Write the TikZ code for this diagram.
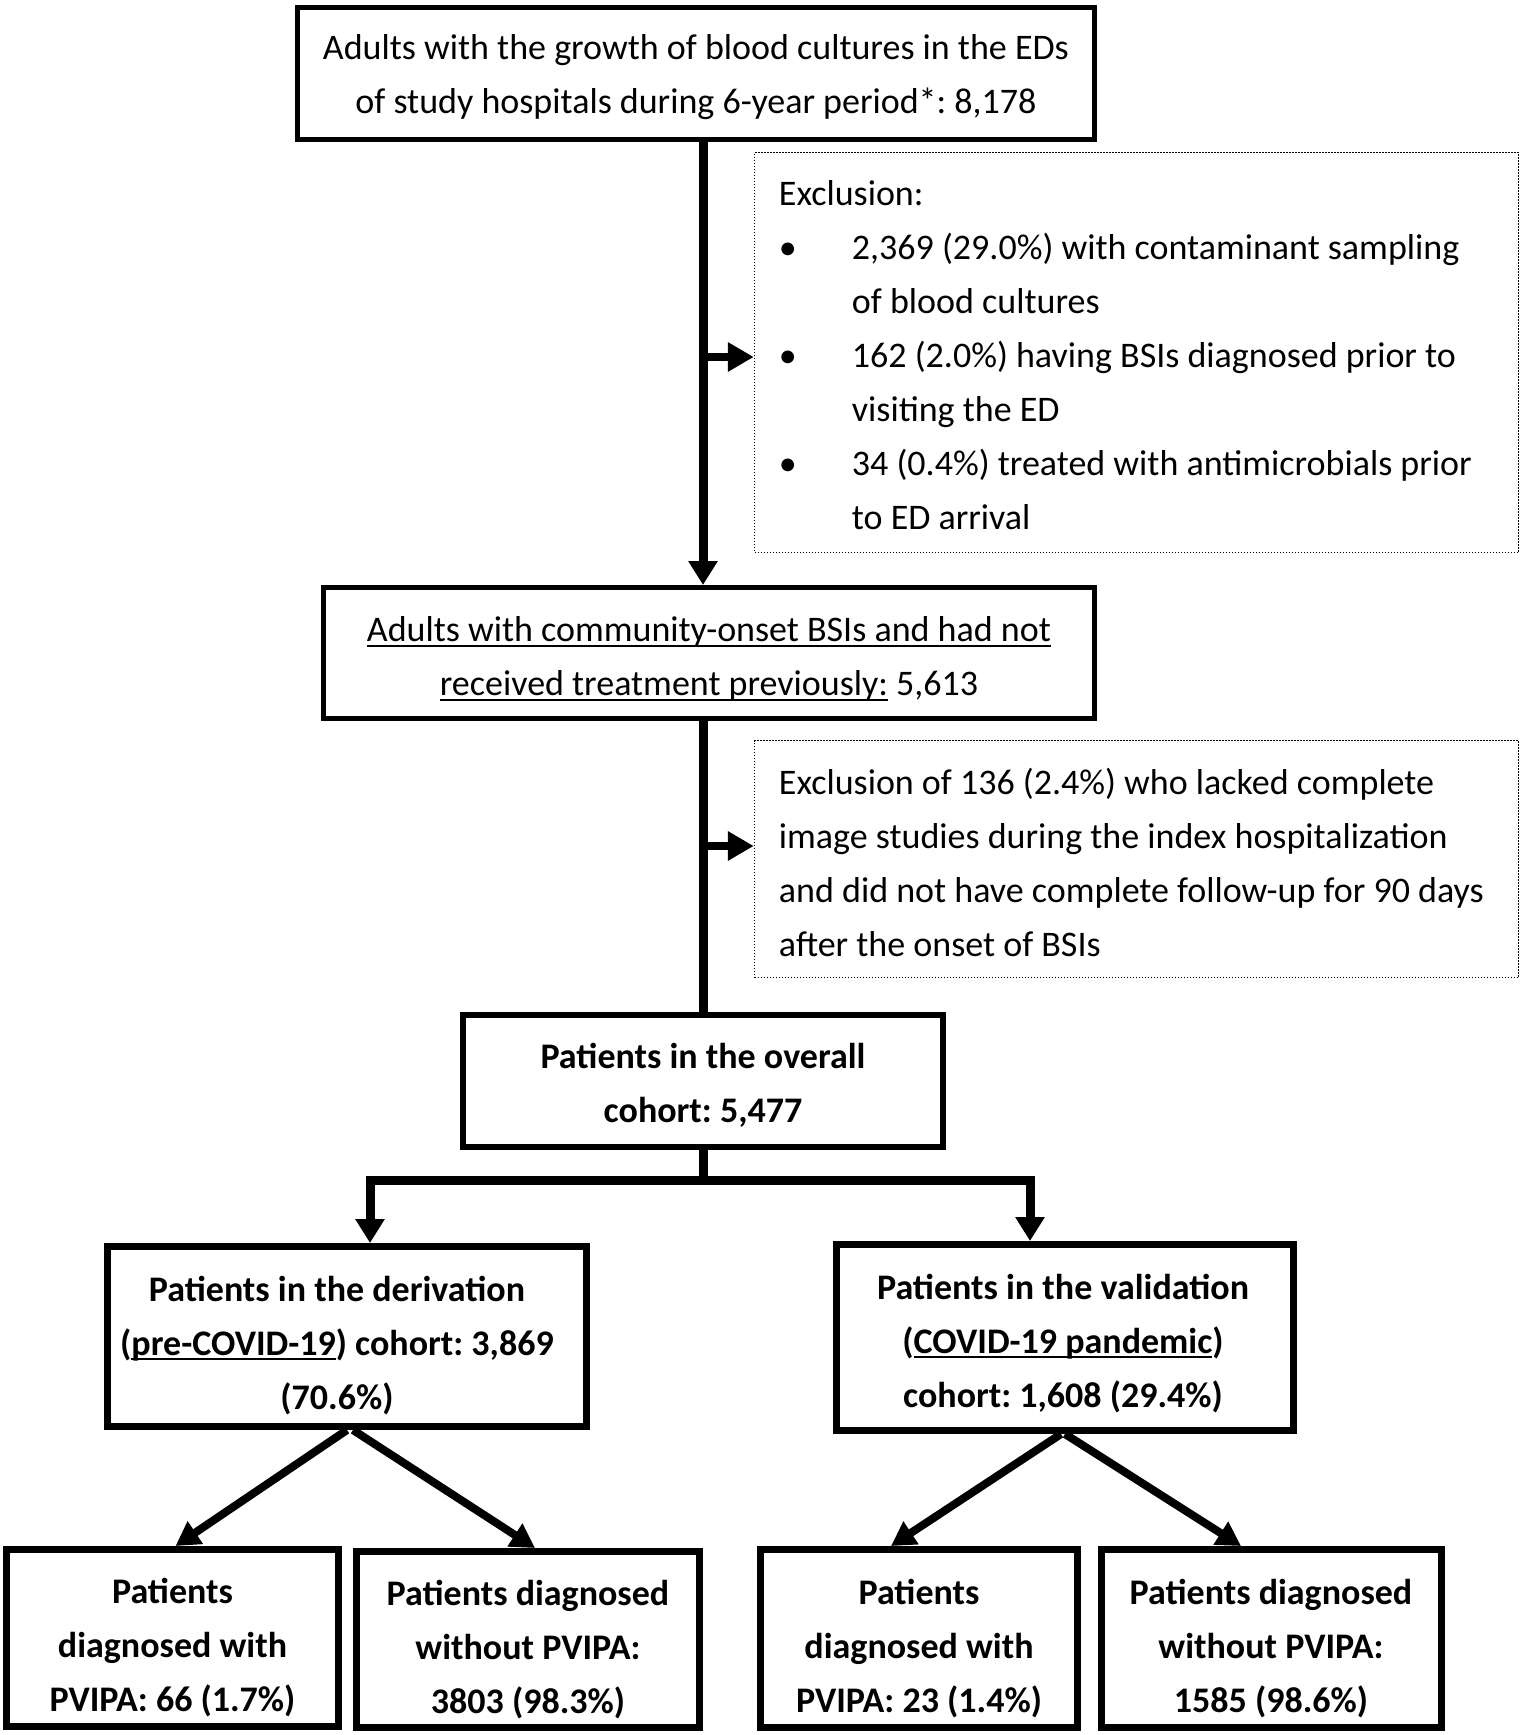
\documentclass[tikz,border=0pt]{standalone}
\usepackage{fontspec}
\setmainfont{Carlito}
\usetikzlibrary{arrows.meta,calc}
\newcommand{\myul}[1]{\setbox0\hbox{#1}\rlap{\rule[-5pt]{\wd0}{2pt}}\box0\relax}
\tikzset{
  txt/.style={font=\fontsize{36}{54}\selectfont\frenchspacing, align=center, inner sep=0pt},
  btxt/.style={font=\fontsize{36}{54}\selectfont\frenchspacing\bfseries, align=center, inner sep=0pt},
  ltxt/.style={font=\fontsize{36}{54}\selectfont\frenchspacing, align=left, inner sep=0pt, anchor=west},
  box/.style={draw, line width=5pt, inner sep=0pt},
  boldbox/.style={draw, line width=7pt, inner sep=0pt},
  dotbox/.style={draw, line width=1.5pt, dash pattern=on 1.5pt off 1.5pt, inner sep=0pt, minimum width=764pt},
  conn/.style={line width=9pt},
  arr/.style={line width=9pt, -{Triangle[width=28pt,length=24pt]}},
  sidearr/.style={line width=8pt, -{Triangle[width=28pt,length=26pt]}},
  diag/.style={line width=8pt, -{Triangle[width=26pt,length=24pt]}}
}
\newcommand{\bul}{\makebox[73pt][l]{\textbullet}}
\newcommand{\ind}{\hspace*{73pt}}
\begin{document}
\begin{tikzpicture}[x=1pt,y=-1pt]
\useasboundingbox (0,0) rectangle (1524,1735);
% boxes
\node[box, minimum width=797pt, minimum height=132pt] (b1) at (696,73.5) {};
\node[box, minimum width=771pt, minimum height=131pt] (b2) at (709,653) {};
\node[boldbox, line width=6pt, minimum width=480pt, minimum height=132pt] (b3) at (703,1081) {};
\node[boldbox, minimum width=479pt, minimum height=180pt] (b4) at (347,1336.5) {};
\node[boldbox, minimum width=457pt, minimum height=186pt] (b5) at (1065,1337.5) {};
\node[boldbox, minimum width=332pt, minimum height=177pt] (b6) at (172.5,1638) {};
\node[boldbox, minimum width=343pt, minimum height=176pt] (b7) at (528,1639.5) {};
\node[boldbox, minimum width=317pt, minimum height=178pt] (b8) at (919,1638.5) {};
\node[boldbox, minimum width=340pt, minimum height=178pt] (b9) at (1271,1638.5) {};
\node[dotbox, minimum height=400pt] (d1) at (1136.5,352.5) {};
\node[dotbox, minimum height=237pt] (d2) at (1136.5,859) {};
% texts
\node[txt] (t1) at ($(b1.center)+(0,4)$)
  {Adults with the growth of blood cultures in the EDs\\of study hospitals during 6-year period*: 8,178};
\node[txt] (t2) at ($(b2.center)+(0,6)$)
  {\myul{Adults with community-onset BSIs and had not}\\\myul{received treatment previously:} 5,613};
\node[btxt] (t3) at ($(b3.center)+(0,4)$) {Patients in the overall\\cohort: 5,477};
\node[btxt] (t4) at ($(b4.center)+(-10,9)$)
  {Patients in the derivation\\(\myul{pre-COVID-19}) cohort: 3,869\\(70.6\%)};
\node[btxt] (t5) at ($(b5.center)+(-2,6)$)
  {Patients in the validation\\(\myul{COVID-19 pandemic})\\cohort: 1,608 (29.4\%)};
\node[btxt] (t6) at ($(b6.center)+(0,10)$) {Patients\\diagnosed with\\PVIPA: 66 (1.7\%)};
\node[btxt] (t7) at ($(b7.center)+(0,10)$) {Patients diagnosed\\without PVIPA:\\3803 (98.3\%)};
\node[btxt] (t8) at ($(b8.center)+(0,10)$) {Patients\\diagnosed with\\PVIPA: 23 (1.4\%)};
\node[btxt] (t9) at ($(b9.center)+(0,10)$) {Patients diagnosed\\without PVIPA:\\1585 (98.6\%)};
\node[ltxt] (e1) at ($(d1.west)+(25,3)$)
  {Exclusion:\\
   \bul 2,369 (29.0\%) with contaminant sampling\\
   \ind of blood cultures\\
   \bul 162 (2.0\%) having BSIs diagnosed prior to\\
   \ind visiting the ED\\
   \bul 34 (0.4\%) treated with antimicrobials prior\\
   \ind to ED arrival};
\node[ltxt] (e2) at ($(d2.west)+(25,3)$)
  {Exclusion of 136 (2.4\%) who lacked complete\\
   image studies during the index hospitalization\\
   and did not have complete follow-up for 90 days\\
   after the onset of BSIs};
% main flow
\draw[arr] (b3.north |- b1.south) -- (b3.north |- b2.north);
\draw[conn] (b3.north |- b2.south) -- (b3.north);
\coordinate (s1) at (b3.north |- 0,357);
\coordinate (s2) at (b3.north |- 0,846);
\draw[sidearr] (s1) -- (s1 -| d1.west);
\draw[sidearr] (s2) -- (s2 -| d2.west);
% split
\coordinate (j) at ($(b3.south)+(0,30)$);
\coordinate (jl) at (370,1180);
\coordinate (jr) at (1030,1180);
\draw[conn] (b3.south) -- (j);
\draw[conn, line cap=rect] (jl) -- (jr);
\draw[arr] (jl) -- (jl |- b4.north);
\draw[arr] (jr) -- (jr |- b5.north);
% diagonals
\draw[diag] ($(b4.south)+(0,0)$) -- ($(b6.north)+(3,0)$);
\draw[diag] ($(b4.south)+(6,0)$) -- ($(b7.north)+(7,0)$);
\draw[diag] ($(b5.south)+(-4,0)$) -- ($(b8.north)+(-28,0)$);
\draw[diag] ($(b5.south)+(0,0)$) -- ($(b9.north)+(-30,0)$);
\end{tikzpicture}
\end{document}
